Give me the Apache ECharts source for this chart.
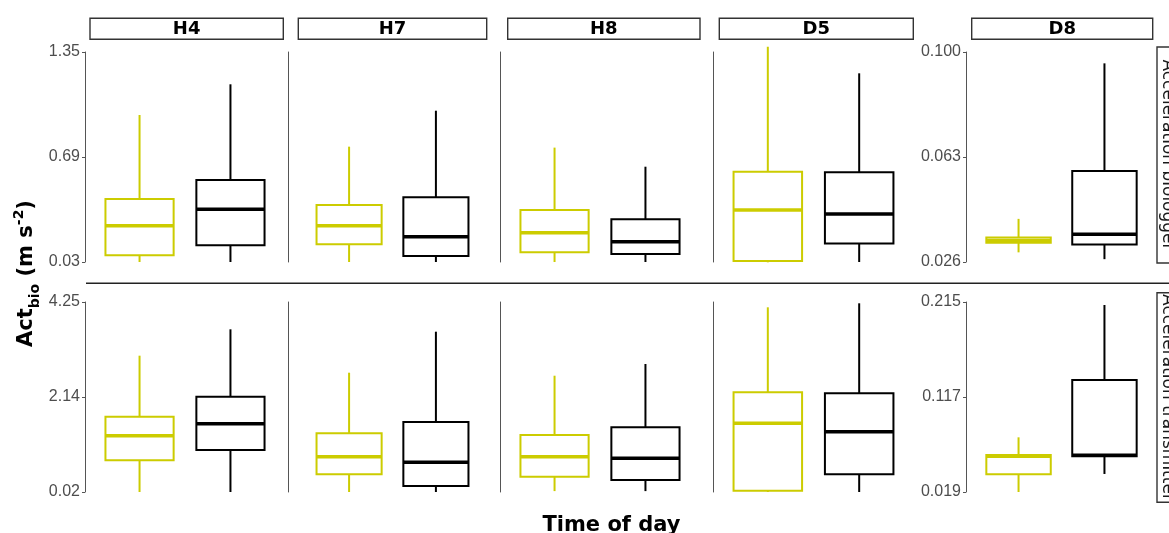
<!DOCTYPE html>
<html>
<head>
<meta charset="utf-8">
<script src="https://cdn.jsdelivr.net/npm/echarts@6/dist/echarts.min.js"></script>
<style>
  html, body { margin: 0; padding: 0; background: #ffffff; }
  #chart { width: 1169px; height: 533px; }
</style>
</head>
<body>
<div id="chart"></div>
<script>
// Facets: sites across, device type down
const sites = ['H4', 'H7', 'H8', 'D5', 'D8'];
const devices = ['Acceleration biologger', 'Acceleration transmitter'];
const periods = ['Day', 'Night'];

// Five-number summaries [min, q1, median, q3, max], one entry per site
const biologgerDay = [
  [0.030, 0.072, 0.258, 0.426, 0.954],
  [0.030, 0.141, 0.258, 0.388, 0.755],
  [0.030, 0.091, 0.214, 0.357, 0.749],
  [0.028, 0.037, 0.357, 0.598, 1.383],
  [0.0294, 0.0328, 0.0336, 0.0346, 0.0412]
];
const biologgerNight = [
  [0.030, 0.135, 0.361, 0.545, 1.147],
  [0.030, 0.068, 0.189, 0.437, 0.981],
  [0.030, 0.080, 0.158, 0.298, 0.629],
  [0.030, 0.147, 0.332, 0.594, 1.216],
  [0.0270, 0.0322, 0.0358, 0.0581, 0.0960]
];
const transmitterDay = [
  [0.02, 0.726, 1.274, 1.697, 3.055],
  [0.02, 0.414, 0.806, 1.327, 2.676],
  [0.04, 0.361, 0.806, 1.289, 2.609],
  [0.02, 0.049, 1.549, 2.240, 4.132],
  [0.019, 0.0373, 0.0560, 0.0572, 0.0754]
];
const transmitterNight = [
  [0.02, 0.955, 1.541, 2.142, 3.642],
  [0.02, 0.154, 0.681, 1.578, 3.589],
  [0.04, 0.287, 0.770, 1.460, 2.870],
  [0.02, 0.414, 1.363, 2.217, 4.221],
  [0.0376, 0.0560, 0.0570, 0.1345, 0.2119]
];

// Axis breaks: the H and D5 sites share one scale per row, D8 has its own
const biologgerTicks = [0.03, 0.69, 1.35];
const biologgerTicksD8 = [0.026, 0.063, 0.100];
const transmitterTicks = [0.02, 2.14, 4.25];
const transmitterTicksD8 = [0.019, 0.117, 0.215];

const periodColors = ['#CCCC00', '#000000'];

// ---- layout ----
const panelLeft = [85, 297, 500, 713, 967];
const panelWidth = [200, 191, 200, 201, 189];
const axisOffset = [0, 9, 0, 0, 1];
const rowTop = [52, 302];
const rowHeight = [210, 190];
const stripX = [[90, 283.3], [298.3, 486.7], [507.7, 700], [719.3, 913.3], [971.7, 1152.7]];
const rowStripY = [[47, 263], [292.7, 502.3]];
const BOX_WIDTH = 0.75;

const rowData = [
  [biologgerDay, biologgerNight],
  [transmitterDay, transmitterNight]
];
const rowTicks = [
  [biologgerTicks, biologgerTicksD8],
  [transmitterTicks, transmitterTicksD8]
];

function renderBox(params, api) {
  const x = api.value(0);
  const pMin = api.coord([x, api.value(1)]);
  const pQ1 = api.coord([x, api.value(2)]);
  const pMed = api.coord([x, api.value(3)]);
  const pQ3 = api.coord([x, api.value(4)]);
  const pMax = api.coord([x, api.value(5)]);
  const half = api.size([BOX_WIDTH, 0])[0] / 2;
  const color = periodColors[x - 1];
  const cx = pMed[0];
  return {
    type: 'group',
    children: [
      { type: 'line', shape: { x1: cx, y1: pMax[1], x2: cx, y2: pQ3[1] }, style: { stroke: color, lineWidth: 2 } },
      { type: 'line', shape: { x1: cx, y1: pQ1[1], x2: cx, y2: pMin[1] }, style: { stroke: color, lineWidth: 2 } },
      { type: 'rect', shape: { x: cx - half, y: pQ3[1], width: 2 * half, height: pQ1[1] - pQ3[1] },
        style: { fill: '#ffffff', stroke: color, lineWidth: 2 } },
      { type: 'line', shape: { x1: cx - half, y1: pMed[1], x2: cx + half, y2: pMed[1] },
        style: { stroke: color, lineWidth: 3.5 } }
    ]
  };
}

const grids = [], xAxes = [], yAxes = [], series = [];
rowData.forEach(function (pair, r) {
  sites.forEach(function (site, s) {
    const idx = grids.length;
    const isD8 = site === 'D8';
    const ticks = rowTicks[r][isD8 ? 1 : 0];
    const digits = isD8 ? 3 : 2;
    const labelled = s === 0 || isD8;
    grids.push({ left: panelLeft[s], top: rowTop[r], width: panelWidth[s], height: rowHeight[r], containLabel: false });
    xAxes.push({ type: 'value', gridIndex: idx, min: 0.4, max: 2.6, show: false });
    yAxes.push({
      type: 'value', gridIndex: idx, position: 'left', offset: axisOffset[s],
      min: ticks[0], max: ticks[2],
      axisLine: { show: true, lineStyle: { color: '#555555', width: 1 } },
      axisTick: { show: labelled, length: 3, customValues: ticks, lineStyle: { color: '#555555', width: 1 } },
      axisLabel: {
        show: labelled, customValues: ticks, margin: 5,
        color: '#4D4D4D', fontSize: 16, fontFamily: '"Liberation Sans", Arial, sans-serif',
        formatter: function (v) { return Number(v).toFixed(digits); }
      },
      splitLine: { show: false }
    });
    series.push({
      type: 'custom', name: devices[r] + ' ' + site,
      xAxisIndex: idx, yAxisIndex: idx, clip: false,
      renderItem: renderBox,
      encode: { x: 0, y: [1, 2, 3, 4, 5] },
      data: periods.map(function (p, k) { return [k + 1].concat(pair[k][s]); })
    });
  });
});

// Facet strips, row separator and axis titles
const graphics = [];
sites.forEach(function (site, s) {
  const [x0, x1] = stripX[s];
  graphics.push({
    type: 'rect', shape: { x: x0, y: 18.3, width: x1 - x0, height: 21 },
    style: { fill: '#ffffff', stroke: '#333333', lineWidth: 1.4 }
  });
  graphics.push({
    type: 'text', x: (x0 + x1) / 2, y: 29.5,
    style: { text: site, font: 'bold 18px "DejaVu Sans"', fill: '#000000',
      align: 'center', verticalAlign: 'middle', textAlign: 'center', textVerticalAlign: 'middle' }
  });
});
devices.forEach(function (dev, r) {
  const [y0, y1] = rowStripY[r];
  graphics.push({
    type: 'rect', shape: { x: 1157, y: y0, width: 30, height: y1 - y0 },
    style: { fill: '#ffffff', stroke: '#333333', lineWidth: 1.4 }
  });
  graphics.push({
    type: 'text', x: 1167, y: (y0 + y1) / 2, rotation: -Math.PI / 2,
    style: { text: dev, font: '17px "DejaVu Sans"', fill: '#1a1a1a',
      align: 'center', verticalAlign: 'middle', textAlign: 'center', textVerticalAlign: 'middle' }
  });
});
graphics.push({
  type: 'line', shape: { x1: 86, y1: 283.3, x2: 1169, y2: 283.3 },
  style: { stroke: '#222222', lineWidth: 1.4 }
});
graphics.push({
  type: 'text', x: 611.5, y: 526,
  style: { text: 'Time of day', font: 'bold 21px "DejaVu Sans"', fill: '#000000',
    align: 'center', verticalAlign: 'middle', textAlign: 'center', textVerticalAlign: 'middle' }
});
graphics.push({
  type: 'text', x: 27, y: 273.5, rotation: Math.PI / 2,
  style: {
    text: '{a|Act}{b|bio}{a| (m s}{c|-2}{a|)}',
    align: 'center', verticalAlign: 'middle', textAlign: 'center', textVerticalAlign: 'middle',
    rich: {
      a: { font: 'bold 21px "DejaVu Sans"', fill: '#000000', lineHeight: 30, verticalAlign: 'middle' },
      b: { font: 'bold 14px "DejaVu Sans"', fill: '#000000', lineHeight: 16, verticalAlign: 'bottom' },
      c: { font: 'bold 14px "DejaVu Sans"', fill: '#000000', lineHeight: 16, verticalAlign: 'top' }
    }
  }
});

const chart = echarts.init(document.getElementById('chart'), null, { renderer: 'canvas' });
chart.setOption({
  backgroundColor: '#ffffff',
  animation: false,
  grid: grids,
  xAxis: xAxes,
  yAxis: yAxes,
  series: series,
  graphic: graphics
});
</script>
</body>
</html>
